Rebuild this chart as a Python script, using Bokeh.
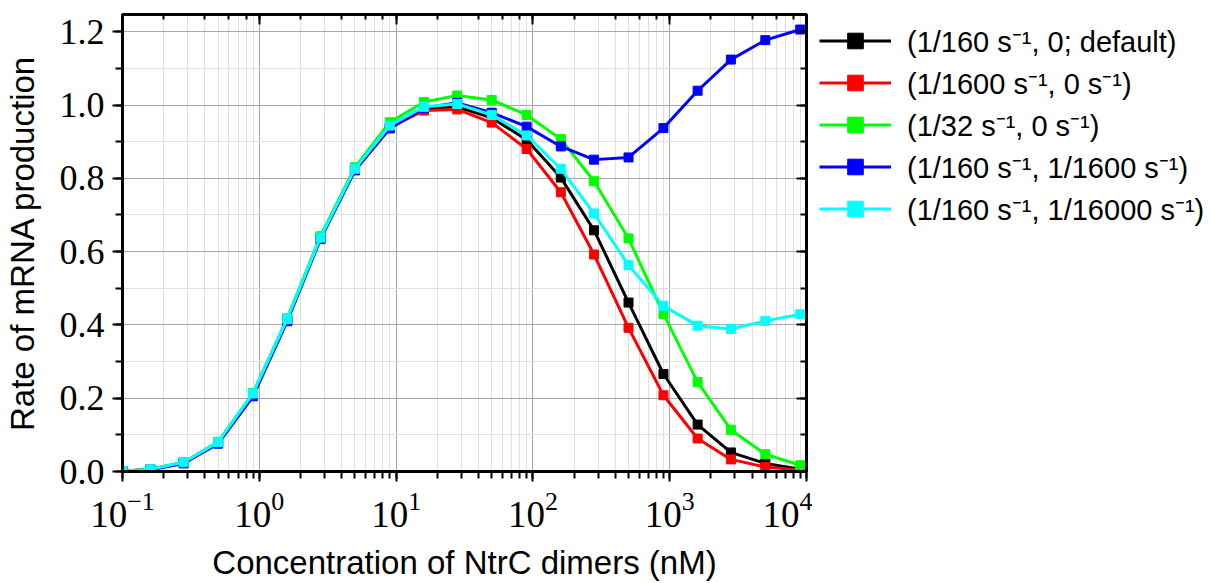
from bokeh.plotting import figure
from bokeh.layouts import row
from bokeh.models import (LogAxis, LinearAxis, SingleIntervalTicker, LogTicker,
                          PrintfTickFormatter, Legend, LegendItem, Range1d)
from bokeh.embed import file_html
from bokeh.resources import INLINE

# ---- data ----
conc = [0.1, 0.16, 0.28, 0.5, 0.9, 1.6, 2.8, 5, 9, 16, 28, 50, 90, 160, 280,
        500, 900, 1600, 2800, 5000, 9000]
default_rate = [0.001, 0.006, 0.024, 0.079, 0.211, 0.415, 0.638, 0.824, 0.940,
                0.990, 0.995, 0.965, 0.905, 0.802, 0.658, 0.461, 0.266, 0.128,
                0.052, 0.022, 0.006]
slow_rate = [0.001, 0.006, 0.024, 0.079, 0.210, 0.414, 0.636, 0.822, 0.938,
             0.985, 0.988, 0.952, 0.880, 0.762, 0.592, 0.392, 0.208, 0.090,
             0.033, 0.012, 0.004]
fast_rate = [0.001, 0.006, 0.025, 0.081, 0.214, 0.418, 0.642, 0.830, 0.953,
             1.008, 1.026, 1.014, 0.973, 0.907, 0.792, 0.636, 0.430, 0.244,
             0.114, 0.047, 0.017]
leak1600_rate = [0.001, 0.005, 0.022, 0.076, 0.205, 0.410, 0.634, 0.822, 0.936,
                 0.992, 1.006, 0.979, 0.941, 0.887, 0.851, 0.857, 0.937, 1.039,
                 1.124, 1.177, 1.206]
leak16000_rate = [0.001, 0.006, 0.025, 0.080, 0.213, 0.416, 0.638, 0.826, 0.944,
                  0.995, 1.003, 0.973, 0.917, 0.826, 0.704, 0.563, 0.452, 0.398,
                  0.389, 0.411, 0.429]

series_labels = ["(1/160 s\u207b\u00b9, 0; default)",
                 "(1/1600 s\u207b\u00b9, 0 s\u207b\u00b9)",
                 "(1/32 s\u207b\u00b9, 0 s\u207b\u00b9)",
                 "(1/160 s\u207b\u00b9, 1/1600 s\u207b\u00b9)",
                 "(1/160 s\u207b\u00b9, 1/16000 s\u207b\u00b9)"]
series_values = [default_rate, slow_rate, fast_rate, leak1600_rate, leak16000_rate]
series_colors = ["#000000", "#ff0000", "#00ff00", "#0000ff", "#00ffff"]

x_label = "Concentration of NtrC dimers (nM)"
y_label = "Rate of mRNA production"

SERIF = "Liberation Serif"
SANS = "Liberation Sans"

p = figure(x_axis_type="log", width=812, height=583,
           x_range=Range1d(0.1, 10000), y_range=Range1d(0, 1.247),
           output_backend="svg", toolbar_location=None,
           min_border_left=120, min_border_top=14, min_border_bottom=110,
           min_border_right=6)

p.outline_line_color = "black"
p.outline_line_width = 3

yticker = SingleIntervalTicker(interval=0.2, num_minor_ticks=2)

# bottom axis
xa = p.xaxis[0]
xa.axis_label = x_label
xa.axis_label_text_font = SANS
xa.axis_label_text_font_style = "normal"
xa.axis_label_text_font_size = "33px"
xa.axis_label_text_color = "black"
xa.axis_label_standoff = 14
xa.major_label_text_font = SERIF
xa.major_label_text_font_size = "37px"
xa.major_label_text_color = "black"
xa.major_label_standoff = 10
xa.axis_line_width = 3
xa.major_tick_line_width = 2
xa.minor_tick_line_width = 2
xa.major_tick_out = 10
xa.major_tick_in = 0
xa.minor_tick_out = 7
xa.minor_tick_in = 0

# left axis
ya = p.yaxis[0]
ya.ticker = yticker
ya.formatter = PrintfTickFormatter(format="%.1f")
ya.axis_label = y_label
ya.axis_label_text_font = SANS
ya.axis_label_text_font_style = "normal"
ya.axis_label_text_font_size = "33px"
ya.axis_label_text_color = "black"
ya.axis_label_standoff = 16
ya.major_label_text_font = SERIF
ya.major_label_text_font_size = "36px"
ya.major_label_text_color = "black"
ya.major_label_standoff = 8
ya.axis_line_width = 3
ya.major_tick_line_width = 2
ya.minor_tick_line_width = 2
ya.major_tick_out = 10
ya.major_tick_in = 0
ya.minor_tick_out = 7
ya.minor_tick_in = 0

# mirrored axes (inward ticks, hidden labels)
top = LogAxis(ticker=LogTicker(), major_label_text_font_size="1px",
              major_label_text_color=None,
              major_label_standoff=0, axis_line_width=3,
              major_tick_in=10, major_tick_out=0, minor_tick_in=5, minor_tick_out=0,
              major_tick_line_width=2, minor_tick_line_width=2)
p.add_layout(top, "above")
right = LinearAxis(ticker=yticker, formatter=PrintfTickFormatter(format="%.1f"),
                   major_label_text_font_size="1px",
                   major_label_text_color=None,
                   major_label_standoff=0, axis_line_width=3,
                   major_tick_in=10, major_tick_out=0, minor_tick_in=6, minor_tick_out=0,
                   major_tick_line_width=2, minor_tick_line_width=2)
p.add_layout(right, "right")

# grids
p.xgrid.grid_line_color = "#a8a8a8"
p.xgrid.minor_grid_line_color = "#e0e0e0"
p.ygrid.ticker = yticker
p.ygrid.grid_line_color = "#a8a8a8"
p.ygrid.minor_grid_line_color = "#e0e0e0"

for vals, col in zip(series_values, series_colors):
    p.line(conc, vals, line_color=col, line_width=3)
    p.scatter(conc, vals, marker="square", size=9, fill_color=col, line_color=col)

# legend panel: a second, axis-free figure next to the plot; its ranges are
# chosen so the series themselves fall outside it and only the legend shows
lg = figure(width=415, height=583, x_range=Range1d(-3, -2), y_range=Range1d(-3, -2),
            output_backend="svg", toolbar_location=None,
            min_border=0, outline_line_color=None)
lg.title.visible = False
lg.axis.visible = False
lg.grid.visible = False

items = []
for lab, vals, col in zip(series_labels, series_values, series_colors):
    ln = lg.line(conc, vals, line_color=col, line_width=3)
    sc = lg.scatter(conc, vals, marker="square", size=8, fill_color=col, line_color=col)
    items.append(LegendItem(label=lab, renderers=[ln, sc]))

legend = Legend(items=items, location="top_left",
                label_text_font=SANS, label_text_font_size="29px",
                label_text_color="black",
                glyph_width=72, glyph_height=39, label_height=39,
                label_standoff=16, spacing=3, padding=0, margin=7,
                border_line_color=None, background_fill_alpha=0)
lg.add_layout(legend, "center")

layout = row(p, lg)
open("out.html", "w").write(file_html(layout, INLINE))
